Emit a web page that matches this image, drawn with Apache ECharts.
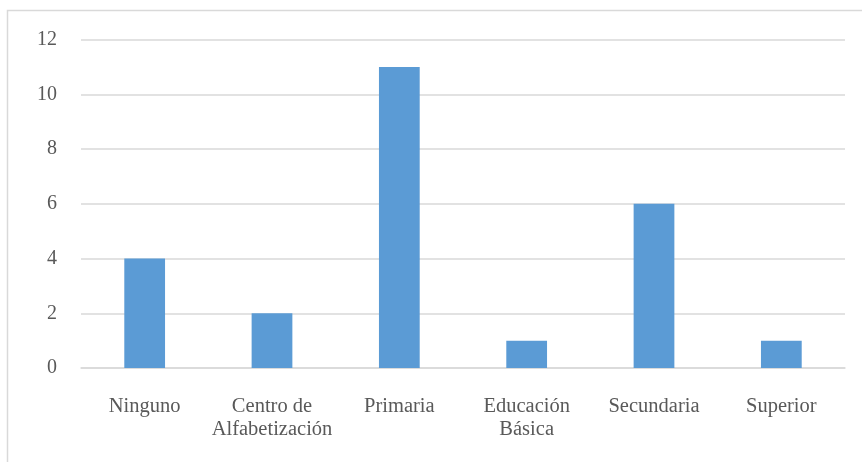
<!DOCTYPE html>
<html>
<head>
<meta charset="utf-8">
<script src="https://cdn.jsdelivr.net/npm/echarts@6/dist/echarts.min.js"></script>
<style>
  html, body { margin: 0; padding: 0; background: #fff; }
  #chart { width: 862px; height: 462px; }
</style>
</head>
<body>
<div id="chart"></div>
<script>
// Nivel de instrucción: número de personas por categoría
const categories = ['Ninguno', 'Centro de\nAlfabetización', 'Primaria', 'Educación\nBásica', 'Secundaria', 'Superior'];
const values = [4, 2, 11, 1, 6, 1];
const yTicks = { min: 0, max: 12, interval: 2 };

const textColor = '#595959';
const lineColor = '#d9d9d9';
const fontFamily = '"Liberation Serif", "Times New Roman", serif';

const chart = echarts.init(document.getElementById('chart'), null, { renderer: 'canvas' });
chart.setOption({
  animation: false,
  backgroundColor: '#ffffff',
  graphic: [{
    type: 'rect',
    shape: { x: 7.5, y: 10.5, width: 900, height: 500 },
    style: { fill: 'none', stroke: lineColor, lineWidth: 1.5 },
    silent: true
  }],
  grid: { left: 81, right: 17, top: 39.5, bottom: 94, containLabel: false },
  xAxis: {
    type: 'category',
    data: categories,
    axisLine: { show: true, lineStyle: { color: lineColor, width: 1.5 } },
    axisTick: { show: false },
    axisLabel: {
      color: textColor,
      fontFamily: fontFamily,
      fontSize: 20.5,
      lineHeight: 23,
      margin: 27,
      interval: 0
    }
  },
  yAxis: {
    type: 'value',
    min: yTicks.min,
    max: yTicks.max,
    interval: yTicks.interval,
    axisLine: { show: false },
    axisTick: { show: false },
    splitLine: { lineStyle: { color: lineColor, width: 1.5 } },
    axisLabel: {
      color: textColor,
      fontFamily: fontFamily,
      fontSize: 20,
      margin: 24
    }
  },
  series: [{
    type: 'bar',
    data: values,
    barWidth: '32%',
    itemStyle: { color: '#5B9BD5' }
  }]
});
</script>
</body>
</html>
